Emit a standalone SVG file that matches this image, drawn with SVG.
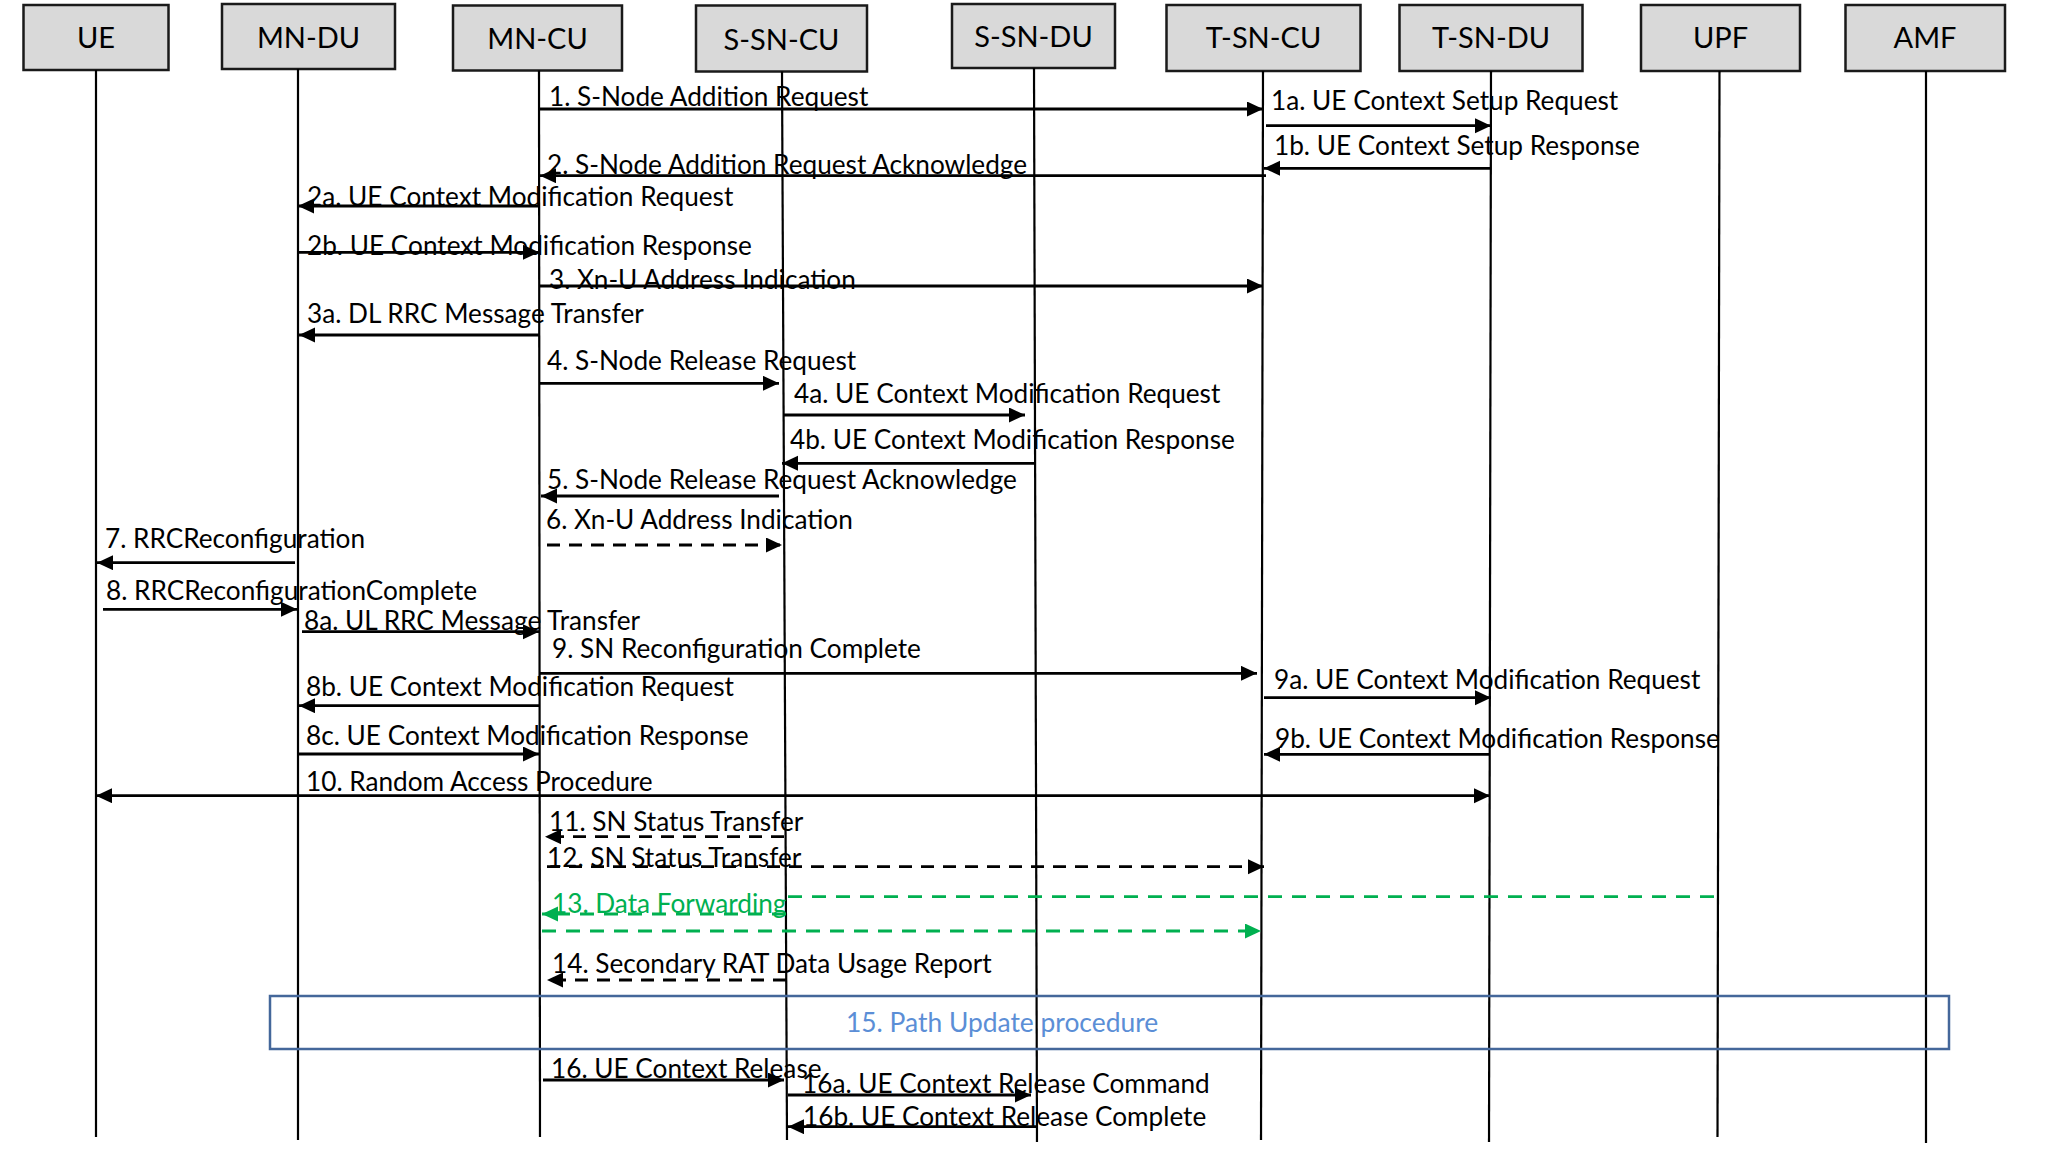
<svg xmlns="http://www.w3.org/2000/svg" width="2048" height="1151" viewBox="0 0 2048 1151">
<style>
.box{fill:#D9D9D9;stroke:#1a1a1a;stroke-width:2.5}
.bt{font-family:Lato,"Liberation Sans",sans-serif;font-size:29px;fill:#000;text-anchor:middle}
.life{stroke:#000;stroke-width:2.2;fill:none}
.m{stroke:#000;stroke-width:2.8;fill:none;marker-end:url(#ah)}
.d{stroke:#000;stroke-width:2.8;fill:none;stroke-dasharray:13 9;marker-end:url(#ah)}
.g{stroke:#00B050;stroke-width:2.8;fill:none;stroke-dasharray:14 10}
.ga{stroke:#00B050;stroke-width:2.8;fill:none;stroke-dasharray:14 10;marker-end:url(#gh)}
.t{font-family:Lato,"Liberation Sans",sans-serif;font-size:26.2px;fill:#000}
.tg{font-family:Lato,"Liberation Sans",sans-serif;font-size:26.2px;fill:#00B050}
.tb{font-family:Lato,"Liberation Sans",sans-serif;font-size:26.4px;fill:#5B8ED6}
</style>
<defs>
<marker id="ah" markerUnits="userSpaceOnUse" markerWidth="17" markerHeight="16" refX="16" refY="7.5" orient="auto-start-reverse"><path d="M0,0 L16,7.5 L0,15 z" fill="#000"/></marker>
<marker id="gh" markerUnits="userSpaceOnUse" markerWidth="17" markerHeight="16" refX="16" refY="7.5" orient="auto"><path d="M0,0 L16,7.5 L0,15 z" fill="#00B050"/></marker>
</defs>
<rect width="2048" height="1151" fill="#fff"/>

<g id="node-UE"><rect class="box" x="23.5" y="5" width="145" height="65"/><text class="bt" x="96" y="48">UE</text><line class="life" x1="96" y1="70" x2="96" y2="1137"/></g>
<g id="node-MN-DU"><rect class="box" x="222" y="4" width="173" height="65"/><text class="bt" x="308.5" y="48">MN-DU</text><line class="life" x1="298" y1="69" x2="298" y2="1140"/></g>
<g id="node-MN-CU"><rect class="box" x="453" y="5.5" width="169" height="65"/><text class="bt" x="537.5" y="49">MN-CU</text><line class="life" x1="539" y1="70.5" x2="540" y2="1137"/></g>
<g id="node-S-SN-CU"><rect class="box" x="696" y="5.5" width="171" height="66"/><text class="bt" x="781.5" y="50">S-SN-CU</text><line class="life" x1="782" y1="71.5" x2="787" y2="1140"/></g>
<g id="node-S-SN-DU"><rect class="box" x="952" y="4" width="163" height="64"/><text class="bt" x="1033.5" y="47">S-SN-DU</text><line class="life" x1="1034" y1="68" x2="1037" y2="1142"/></g>
<g id="node-T-SN-CU"><rect class="box" x="1166.5" y="5" width="194" height="66"/><text class="bt" x="1263.5" y="48">T-SN-CU</text><line class="life" x1="1263" y1="71" x2="1261" y2="1140"/></g>
<g id="node-T-SN-DU"><rect class="box" x="1399.5" y="5" width="183" height="66"/><text class="bt" x="1491" y="48">T-SN-DU</text><line class="life" x1="1491" y1="71" x2="1489" y2="1142"/></g>
<g id="node-UPF"><rect class="box" x="1641" y="5" width="159" height="66"/><text class="bt" x="1720.5" y="48">UPF</text><line class="life" x1="1719.5" y1="71" x2="1717.5" y2="1137"/></g>
<g id="node-AMF"><rect class="box" x="1845.5" y="5" width="159.5" height="66"/><text class="bt" x="1925" y="48">AMF</text><line class="life" x1="1926" y1="71" x2="1926" y2="1143"/></g>

<g id="node-path-update"><rect x="270" y="996" width="1679" height="53" fill="none" stroke="#44679A" stroke-width="2.5"/><text class="tb" x="846" y="1032">15. Path Update procedure</text></g>

<g id="connectors">
<line class="m" x1="539" y1="109" x2="1263" y2="109"/>
<line class="m" x1="1266" y1="125.7" x2="1491" y2="125.7"/>
<line class="m" x1="1491" y1="168.3" x2="1264" y2="168.3"/>
<line class="m" x1="1266" y1="175.7" x2="540" y2="175.7"/>
<line class="m" x1="539" y1="206" x2="298" y2="206"/>
<line class="m" x1="298" y1="252.3" x2="539" y2="252.3"/>
<line class="m" x1="539" y1="286" x2="1263" y2="286"/>
<line class="m" x1="539" y1="335" x2="299" y2="335"/>
<line class="m" x1="539" y1="383.3" x2="779" y2="383.3"/>
<line class="m" x1="784" y1="415" x2="1025" y2="415"/>
<line class="m" x1="1035" y1="463.3" x2="782" y2="463.3"/>
<line class="m" x1="779" y1="496" x2="541" y2="496"/>
<line class="d" x1="547" y1="545" x2="782" y2="545"/>
<line class="m" x1="295" y1="562.7" x2="97" y2="562.7"/>
<line class="m" x1="103" y1="609.3" x2="297" y2="609.3"/>
<line class="m" x1="302" y1="631.7" x2="539" y2="631.7"/>
<line class="m" x1="539" y1="673.3" x2="1257" y2="673.3"/>
<line class="m" x1="1264" y1="697.7" x2="1491" y2="697.7"/>
<line class="m" x1="539" y1="705.7" x2="299" y2="705.7"/>
<line class="m" x1="298" y1="754" x2="539" y2="754"/>
<line class="m" x1="1490" y1="754.3" x2="1264" y2="754.3"/>
<line class="m" x1="96" y1="795.7" x2="1490" y2="795.7" style="marker-start:url(#ah)"/>
<line class="d" x1="784" y1="836.7" x2="545" y2="836.7"/>
<line class="d" x1="547" y1="866.7" x2="1264" y2="866.7"/>
<line class="g" x1="1714" y1="896.7" x2="787" y2="896.7"/>
<line class="ga" x1="786" y1="914" x2="542" y2="914"/>
<line class="ga" x1="542" y1="931" x2="1261" y2="931"/>
<line class="d" x1="786" y1="980" x2="547" y2="980"/>
<line class="m" x1="543" y1="1080" x2="784" y2="1080"/>
<line class="m" x1="788" y1="1095" x2="1031" y2="1095"/>
<line class="m" x1="1036" y1="1126.7" x2="788" y2="1126.7"/>
</g>

<g id="labels" transform="translate(0,1.3)">
<text class="t" x="549" y="105">1. S-Node Addition Request</text>
<text class="t" x="1271" y="109">1a. UE Context Setup Request</text>
<text class="t" x="1274" y="154">1b. UE Context Setup Response</text>
<text class="t" x="547" y="173">2. S-Node Addition Request Acknowledge</text>
<text class="t" x="307" y="205">2a. UE Context Modification Request</text>
<text class="t" x="307" y="254">2b. UE Context Modification Response</text>
<text class="t" x="549" y="288">3. Xn-U Address Indication</text>
<text class="t" x="307" y="322">3a. DL RRC Message Transfer</text>
<text class="t" x="547" y="369">4. S-Node Release Request</text>
<text class="t" x="794" y="402">4a. UE Context Modification Request</text>
<text class="t" x="790" y="448">4b. UE Context Modification Response</text>
<text class="t" x="547" y="488">5. S-Node Release Request Acknowledge</text>
<text class="t" x="546" y="528">6. Xn-U Address Indication</text>
<text class="t" x="105" y="547">7. RRCReconfiguration</text>
<text class="t" x="106" y="599">8. RRCReconfigurationComplete</text>
<text class="t" x="304" y="629">8a. UL RRC Message Transfer</text>
<text class="t" x="552" y="657">9. SN Reconfiguration Complete</text>
<text class="t" x="1274" y="688">9a. UE Context Modification Request</text>
<text class="t" x="306" y="695">8b. UE Context Modification Request</text>
<text class="t" x="306" y="744">8c. UE Context Modification Response</text>
<text class="t" x="1275" y="747">9b. UE Context Modification Response</text>
<text class="t" x="306" y="790">10. Random Access Procedure</text>
<text class="t" x="549" y="830">11. SN Status Transfer</text>
<text class="t" x="547" y="866">12. SN Status Transfer</text>
<text class="tg" x="552" y="912">13. Data Forwarding</text>
<text class="t" x="552" y="972">14. Secondary RAT Data Usage Report</text>
<text class="t" x="551" y="1077">16. UE Context Release</text>
<text class="t" x="802" y="1092">16a. UE Context Release Command</text>
<text class="t" x="803" y="1125">16b. UE Context Release Complete</text>
</g>
</svg>
